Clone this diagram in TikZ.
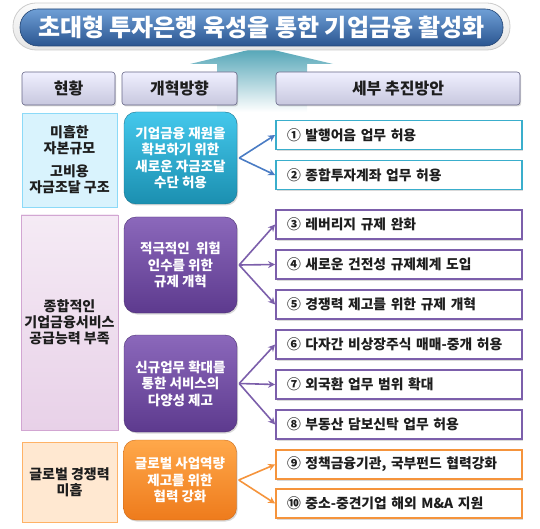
\documentclass[tikz,border=0pt]{standalone}
\usepackage{fontspec}
\setmainfont{Noto Sans CJK KR}
\usetikzlibrary{shadows,arrows.meta}
\definecolor{tealtop}{HTML}{44C8EC}
\definecolor{tealbot}{HTML}{1B8FB0}
\definecolor{purtop}{HTML}{8B68BB}
\definecolor{purbot}{HTML}{5D3A8E}
\definecolor{orgtop}{HTML}{FFA84A}
\definecolor{orgbot}{HTML}{EE7B1C}
\definecolor{tealline}{HTML}{3AAECC}
\definecolor{purline}{HTML}{7C5FAB}
\definecolor{orgline}{HTML}{F5943C}
\definecolor{bluearrow}{HTML}{4A7CC4}
\definecolor{txt}{HTML}{1E1E1E}
\definecolor{bgarrow}{HTML}{4FA3B5}
\definecolor{titletop}{HTML}{6F9FD6}
\definecolor{titlemid}{HTML}{4476B8}
\definecolor{titlebot}{HTML}{2A5590}
\tikzset{
  shad/.style={drop shadow={shadow xshift=1.2pt,shadow yshift=-1.5pt,opacity=0.3}},
  hdr/.style={shad,draw=black!35!blue!20!gray,line width=0.6pt,rounded corners=3pt,top color=blue!6!white,bottom color=blue!25!gray!35!white,
    font=\bfseries\fontsize{16}{18}\selectfont,text=txt,minimum height=33pt},
  lefta/.style={draw=cyan!45!white,line width=0.8pt,fill=cyan!15!white,font=\bfseries\fontsize{14}{16}\selectfont,text=txt,align=center,minimum width=95pt},
  leftb/.style={draw=violet!35!white,line width=0.8pt,top color=violet!8!white,bottom color=violet!18!white,font=\bfseries\fontsize{14}{16}\selectfont,text=txt,align=center,minimum width=95pt},
  leftc/.style={draw=orange!60!white,line width=0.8pt,fill=orange!18!white,font=\bfseries\fontsize{14}{16}\selectfont,text=txt,align=center,minimum width=95pt},
  dir/.style={shad,rounded corners=12pt,align=center,text=white,font=\bfseries\fontsize{13.5}{16.5}\selectfont,minimum width=113pt},
  dirt/.style={dir,draw=tealbot!80!black,top color=tealtop,bottom color=tealbot},
  dirp/.style={dir,draw=purbot!80!black,top color=purtop,bottom color=purbot},
  diro/.style={dir,draw=orgbot!85!black,top color=orgtop,bottom color=orgbot},
  det/.style={shad,fill=white,line width=1.8pt,minimum width=246pt,minimum height=29pt,text width=224pt,align=left,
    font=\bfseries\fontsize{13.8}{15}\selectfont,text=txt},
  dett/.style={det,draw=tealline},
  detp/.style={det,draw=purline},
  deto/.style={det,draw=orgline},
  arr/.style={line width=1.6pt,-{Stealth[length=7pt,width=7pt]}},
}
\begin{document}
\begin{tikzpicture}[x=1pt,y=-1pt]
\useasboundingbox (0,0) rectangle (540,529);
% background arrow
\shade[top color=bgarrow,bottom color=white]
  (261,47) -- (190,64) -- (217,64) -- (217,112) -- (307,112) -- (307,64) -- (333,64) -- cycle;
% title
\node[draw=gray!40,line width=0.8pt,rounded corners=23pt,top color=gray!3,bottom color=gray!20,minimum width=497pt,minimum height=47pt] (tout) at (261.5,26.5) {};
\node[draw=titlebot!80!black,line width=0.6pt,rounded corners=18pt,top color=titletop,middle color=titlemid,bottom color=titlebot,
  minimum width=483pt,minimum height=37pt,text=white,font=\bfseries\fontsize{24}{26}\selectfont] (title) at (261.5,27.5) {초대형 투자은행 육성을 통한 기업금융 활성화};
% headers
\node[hdr,minimum width=93pt] (h1) at (68.5,88.5) {현황};
\node[hdr,minimum width=115pt] (h2) at (179.5,88.5) {개혁방향};
\node[hdr,minimum width=244pt] (h3) at (398,88.5) {세부 추진방안};
% left column
\node[lefta,minimum height=94pt] (s1) at (69.5,160) {미흡한\\자본규모\\[7pt]고비용\\자금조달 구조};
\node[leftb,minimum height=215pt] (s2) at (69.5,322.5) {종합적인\\기업금융서비스\\공급능력 부족};
\node[leftc,minimum height=80pt] (s3) at (69.5,482) {글로벌 경쟁력\\미흡};
% directions
\node[dirt,minimum height=92pt] (d1) at (180.5,158) {기업금융 재원을\\확보하기 위한\\새로운 자금조달\\수단 허용};
\node[dirp,minimum height=96pt] (d2) at (180.5,265) {적극적인 \ 위험\\인수를 위한\\규제 개혁};
\node[dirp,minimum height=97pt] (d3) at (180.5,383.5) {신규업무 확대를\\통한 서비스의\\다양성 제고};
\node[diro,minimum height=80pt] (d4) at (180,480) {글로벌 사업역량\\제고를 위한\\협력 강화};
% details
\node[dett] (p1) at (399,135) {① 발행어음 업무 허용};
\node[dett] (p2) at (399,175) {② 종합투자계좌 업무 허용};
\node[detp] (p3) at (399,224.5) {③ 레버리지 규제 완화};
\node[detp] (p4) at (399,264.5) {④ 새로운 건전성 규제체계 도입};
\node[detp] (p5) at (399,304.5) {⑤ 경쟁력 제고를 위한 규제 개혁};
\node[detp] (p6) at (399,344.5) {⑥ 다자간 비상장주식 매매-중개 허용};
\node[detp] (p7) at (399,384.5) {⑦ 외국환 업무 범위 확대};
\node[detp] (p8) at (399,424.5) {⑧ 부동산 담보신탁 업무 허용};
\node[deto] (p9) at (399,464.5) {⑨ 정책금융기관, 국부펀드 협력강화};
\node[deto] (p10) at (399,503.5) {⑩ 중소-중견기업 해외 M\&A 지원};
% arrows
\coordinate (o1) at ([xshift=2pt]d1.east);
\coordinate (o2) at ([xshift=2pt]d2.east);
\coordinate (o3) at ([xshift=2pt]d3.east);
\coordinate (o4) at ([xshift=2pt]d4.east);
\draw[arr,bluearrow] (o1) -- (p1.west);
\draw[arr,bluearrow] (o1) -- (p2.west);
\draw[arr,purline] (o2) -- (p3.west);
\draw[arr,purline] (o2) -- (p4.west);
\draw[arr,purline] (o2) -- (p5.west);
\draw[arr,purline] (o3) -- (p6.west);
\draw[arr,purline] (o3) -- (p7.west);
\draw[arr,purline] (o3) -- (p8.west);
\draw[arr,orgline] (o4) -- (p9.west);
\draw[arr,orgline] (o4) -- (p10.west);
\end{tikzpicture}
\end{document}
